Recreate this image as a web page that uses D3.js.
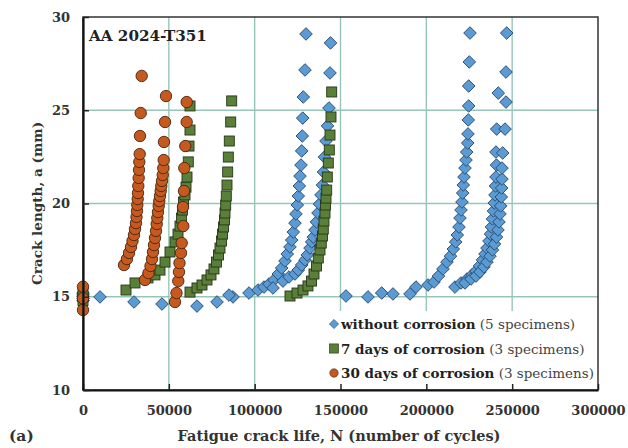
<!DOCTYPE html>
<html>
<head>
<meta charset="utf-8">
<script src="https://cdn.jsdelivr.net/npm/d3@7"></script>
<style>
  body { margin: 0; background: #fff; }
  svg { display: block; }
</style>
</head>
<body>
<svg width="628" height="448"></svg>
<script>
// crack growth data, [N cycles, a mm] per specimen
const noCorr1 = [[0, 15.0], [9900, 14.99], [29710, 14.72], [66400, 14.50], [87380, 14.99], [96700, 15.20], [101940, 15.36],
  [105430, 15.52], [108350, 15.68], [111260, 15.90], [113760, 16.22], [115740, 16.54], [117670, 16.92], [119000, 17.29],
  [120580, 17.67], [121570, 18.04], [122500, 18.47], [123490, 18.95], [124070, 19.44], [124830, 19.92], [125410, 20.40],
  [126000, 20.94], [126400, 21.47], [126990, 22.06], [127390, 22.82], [127740, 23.62], [127980, 24.58], [128320, 25.71],
  [129320, 27.16], [129900, 29.09]]
const noCorr2 = [[0, 14.8], [46020, 14.61], [78060, 14.72], [85050, 15.09], [110680, 15.47], [116500, 15.84], [120000, 16.06],
  [123490, 16.22], [125410, 16.43], [127390, 16.70], [129320, 16.97], [130650, 17.24], [132230, 17.61], [133220, 17.94],
  [134150, 18.20], [135140, 18.58], [136010, 19.01], [136890, 19.49], [137760, 19.97], [138640, 20.46], [139510, 20.99],
  [140090, 21.69], [140670, 22.49], [141550, 23.35], [142420, 24.16], [143300, 25.12], [143880, 27.00], [144170, 28.61]]
const noCorr3 = [[0, 15.1], [153200, 15.04], [173990, 15.20], [200960, 15.63], [204460, 15.79], [207080, 16.11], [209700, 16.49],
  [212030, 16.86], [214070, 17.18], [215700, 17.56], [217100, 17.94], [218030, 18.31], [219020, 18.74], [219600, 19.22],
  [220190, 19.65], [220770, 20.08], [221180, 20.56], [221520, 20.99], [221930, 21.42], [222520, 21.90], [223100, 22.33],
  [223500, 22.76], [224090, 23.24], [224260, 23.73], [224440, 24.48], [224670, 25.23], [224670, 26.30], [225020, 27.59],
  [225430, 29.14]]
const noCorr4 = [[0, 14.9], [166010, 14.99], [190480, 15.15], [216690, 15.52], [220190, 15.74], [223680, 15.95], [226590, 16.17],
  [228920, 16.38], [230960, 16.65], [232710, 16.97], [234170, 17.29], [235330, 17.61], [236500, 17.99], [237370, 18.36],
  [237950, 18.74], [238530, 19.17], [239120, 19.60], [239580, 20.03], [239990, 20.46], [240280, 20.94], [240570, 21.42],
  [240860, 22.06], [240570, 22.76], [240980, 23.99], [241910, 25.92]]
const noCorr5 = [[0, 15.2], [180580, 15.15], [193970, 15.52], [222520, 15.74], [226010, 15.95], [228920, 16.11], [231250, 16.33],
  [233580, 16.60], [235330, 16.86], [237080, 17.18], [238530, 17.51], [239700, 17.83], [240860, 18.20], [241740, 18.58],
  [242320, 19.01], [242900, 19.44], [243310, 19.87], [243660, 20.35], [243890, 20.83], [244070, 21.31], [244070, 21.90],
  [244480, 22.71], [245820, 23.99], [246400, 25.44], [246400, 27.05], [246810, 29.14]]

const days7_1 = [[0, 15.0], [25050, 15.36], [30290, 15.74], [37860, 16.01], [41940, 16.17], [44850, 16.43], [47770, 16.86],
  [50680, 17.40], [53590, 17.94], [55340, 18.36], [56500, 18.79], [57380, 19.22], [57960, 19.65], [58540, 20.08],
  [59420, 20.46], [60000, 20.88], [60580, 21.42], [61330, 22.23], [61750, 23.08], [62330, 23.94], [62330, 25.23]]
const days7_2 = [[0, 14.8], [62330, 15.25], [66400, 15.47], [69320, 15.63], [72230, 15.90], [74560, 16.17], [76310, 16.49],
  [77760, 16.86], [78930, 17.24], [79800, 17.61], [80680, 17.99], [81260, 18.36], [81840, 18.74], [82430, 19.12],
  [82720, 19.49], [83120, 19.92], [83470, 20.40], [83880, 20.99], [84290, 21.69], [84640, 22.49], [85220, 23.35],
  [86040, 24.37], [86620, 25.50]]
const days7_3 = [[0, 15.2], [120580, 15.04], [124650, 15.20], [128150, 15.36], [131060, 15.58], [133100, 15.84], [134560, 16.22],
  [136010, 16.65], [137060, 17.08], [138050, 17.51], [138810, 17.88], [139510, 18.26], [139970, 18.63], [140380, 19.06],
  [140970, 19.49], [141260, 19.92], [141550, 20.29], [141960, 20.72], [142310, 21.42], [142890, 22.17], [143470, 22.87],
  [143880, 23.67], [144460, 24.64], [144870, 25.98]]

const days30_1 = [[0, 14.92], [23900, 16.70], [25600, 17.02], [26800, 17.35], [27960, 17.67], [28830, 17.99], [29700, 18.31],
  [30290, 18.63], [30870, 18.95], [31160, 19.28], [31460, 19.60], [31630, 19.92], [31860, 20.24], [32040, 20.56],
  [32210, 20.94], [32440, 21.37], [32620, 21.80], [32800, 22.23], [33030, 22.65], [33200, 23.62], [33610, 24.85],
  [34190, 26.84]]
const days30_2 = [[0, 15.54], [36100, 15.90], [38150, 16.27], [39320, 16.65], [40190, 17.02], [40780, 17.40], [41360, 17.77],
  [41940, 18.15], [42520, 18.53], [42930, 18.90], [43280, 19.22], [43690, 19.54], [44100, 19.87], [44440, 20.13],
  [44850, 20.40], [45260, 20.67], [45610, 20.94], [46020, 21.21], [46430, 21.53], [46770, 21.90], [47010, 22.33],
  [47180, 23.30], [47770, 24.37], [48350, 25.76]]
const days30_3 = [[0, 14.29], [53590, 14.72], [54460, 15.20], [55510, 15.84], [55920, 16.33], [56210, 16.81], [57085, 17.35],
  [57490, 17.88], [58420, 18.79], [58250, 19.81], [58830, 20.67], [59010, 21.90], [59590, 23.08], [60400, 24.37],
  [60400, 25.44]]

const xTicks = [0, 50000, 100000, 150000, 200000, 250000, 300000]
const yTicks = [10, 15, 20, 25, 30]
const legendLabels = [
  ["without corrosion", " (5 specimens)"],
  ["7 days of corrosion", " (3 specimens)"],
  ["30 days of corrosion", " (3 specimens)"]
]

const svg = d3.select("svg")
const margin = {left: 83, top: 17, right: 30, bottom: 58}
const W = 628, H = 448

const x = d3.scaleLinear().domain([0, 300000]).range([margin.left, W - margin.right])
const y = d3.scaleLinear().domain([10, 30]).range([H - margin.bottom, margin.top])

const gridColor = "#97c5b7"

// grid
svg.append("g").selectAll("line").data(xTicks.slice(1, -1)).join("line")
  .attr("x1", d => x(d)).attr("x2", d => x(d))
  .attr("y1", y(10)).attr("y2", y(30))
  .attr("stroke", gridColor).attr("stroke-width", 1.4)
svg.append("g").selectAll("line").data(yTicks.slice(1, -1)).join("line")
  .attr("x1", x(0)).attr("x2", x(300000))
  .attr("y1", d => y(d)).attr("y2", d => y(d))
  .attr("stroke", gridColor).attr("stroke-width", 1.4)

// series
const series = [
  {data: [noCorr1, noCorr2, noCorr3, noCorr4, noCorr5], fill: "#5b9bd5", stroke: "#2b4a6b", shape: "diamond"},
  {data: [days7_1, days7_2, days7_3], fill: "#5a7f38", stroke: "#27361a", shape: "square"},
  {data: [days30_1, days30_2, days30_3], fill: "#c65a1e", stroke: "#4a2410", shape: "circle"}
]

function drawMark(g, shape, size) {
  if (shape === "circle") {
    return g.append("circle").attr("r", size)
  }
  if (shape === "square") {
    return g.append("rect").attr("x", -size).attr("y", -size).attr("width", size * 2).attr("height", size * 2)
  }
  // diamond = square turned 45deg, size is half the diagonal
  return g.append("path").attr("d", d3.symbol(d3.symbolSquare, size * size * 2)()).attr("transform", "rotate(45)")
}

const markSize = {diamond: 6.3, square: 5, circle: 5.7}

series.forEach(s => {
  const g = svg.append("g")
  s.data.forEach(spec => {
    spec.forEach(p => {
      const m = g.append("g").attr("transform", "translate(" + x(p[0]) + "," + y(p[1]) + ")")
      drawMark(m, s.shape, markSize[s.shape])
        .attr("fill", s.fill).attr("stroke", s.stroke).attr("stroke-width", 0.9)
    })
  })
})

// legend
const leg = svg.append("g")
leg.append("rect")
  .attr("x", 327).attr("y", 311).attr("width", 270).attr("height", 78)
  .attr("fill", "#fff")
const legMark = {diamond: 4.6, square: 4.6, circle: 4.2}
series.forEach((s, i) => {
  const cy = 324 + i * 24.5
  const m = leg.append("g").attr("transform", "translate(" + 334 + "," + cy + ")")
  drawMark(m, s.shape, legMark[s.shape]).attr("fill", s.fill).attr("stroke", s.stroke).attr("stroke-width", 0.6)
  const t = leg.append("text")
    .attr("x", 341).attr("y", cy + 5)
    .attr("font-family", "DejaVu Serif").attr("font-size", 13.5)
    .attr("fill", "#222")
  t.append("tspan").attr("font-weight", "bold").text(legendLabels[i][0])
  t.append("tspan").attr("fill", "#444").text(legendLabels[i][1])
})

// frame
svg.append("rect")
  .attr("x", x(0)).attr("y", y(30))
  .attr("width", x(300000) - x(0)).attr("height", y(10) - y(30))
  .attr("fill", "none").attr("stroke", "#333").attr("stroke-width", 1.5)

// axes
const xAxis = svg.append("g")
  .attr("transform", "translate(0," + y(10) + ")")
  .call(d3.axisBottom(x).tickValues(xTicks).tickFormat(d3.format("d")).tickSize(-6).tickSizeOuter(0).tickPadding(16))
const yAxis = svg.append("g")
  .attr("transform", "translate(" + x(0) + ",0)")
  .call(d3.axisLeft(y).tickValues(yTicks).tickSize(-6).tickSizeOuter(0).tickPadding(13))

;[xAxis, yAxis].forEach(a => {
  a.select(".domain").attr("stroke", "#111").attr("stroke-width", 2.2)
  a.selectAll(".tick line").attr("stroke", "#222").attr("stroke-width", 1.5)
  a.selectAll(".tick text")
    .attr("font-family", "DejaVu Serif").attr("font-weight", "bold").attr("font-size", 13)
    .attr("fill", "#333")
})

// titles
svg.append("text")
  .attr("x", 339).attr("y", 441)
  .attr("text-anchor", "middle")
  .attr("font-family", "DejaVu Serif").attr("font-weight", "bold").attr("font-size", 14.5)
  .attr("fill", "#333")
  .text("Fatigue crack life, N (number of cycles)")

svg.append("text")
  .attr("transform", "translate(42," + ((y(10) + y(30)) / 2) + ") rotate(-90)")
  .attr("text-anchor", "middle")
  .attr("font-family", "DejaVu Serif").attr("font-weight", "bold").attr("font-size", 13.6)
  .attr("fill", "#333")
  .text("Crack length, a (mm)")

svg.append("text")
  .attr("x", 9).attr("y", 441)
  .attr("font-family", "DejaVu Serif").attr("font-weight", "bold").attr("font-size", 15.5)
  .attr("fill", "#333")
  .text("(a)")

svg.append("text")
  .attr("x", 89).attr("y", 41)
  .attr("font-family", "DejaVu Serif").attr("font-weight", "bold").attr("font-size", 15.2)
  .attr("fill", "#222")
  .text("AA 2024-T351")
</script>
</body>
</html>
